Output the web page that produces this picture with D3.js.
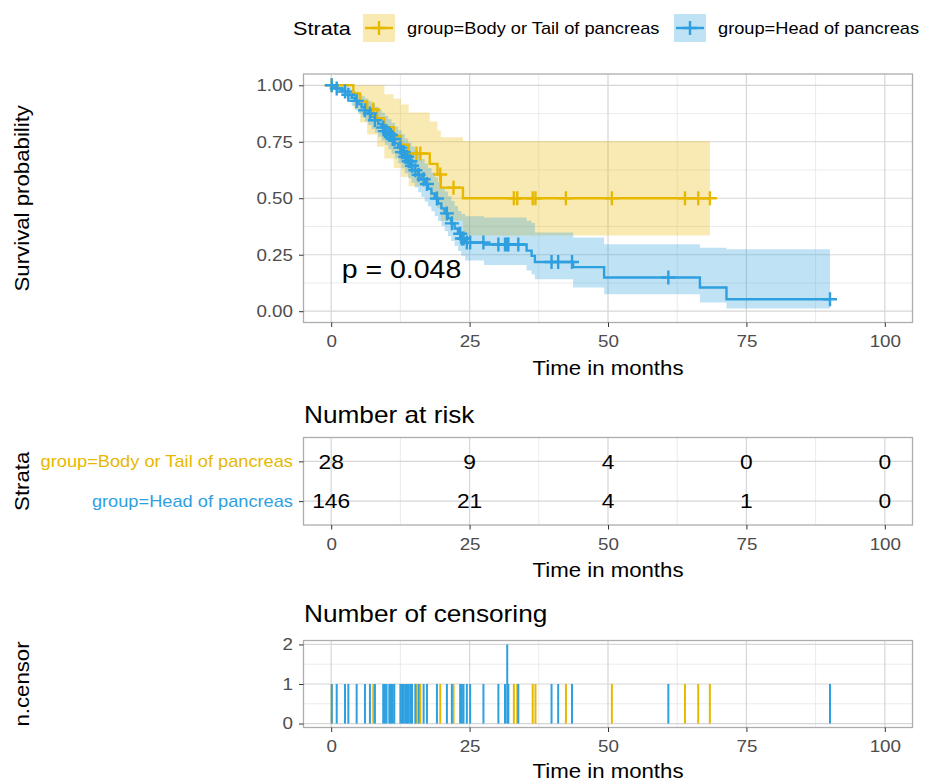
<!DOCTYPE html>
<html><head><meta charset="utf-8">
<script src="https://cdn.jsdelivr.net/npm/d3@7"></script>
<style>body{margin:0;background:#fff}</style>
</head><body>
<script>
// ---------------- data ----------------
const strata = ["group=Body or Tail of pancreas", "group=Head of pancreas"];
const strataColors = ["#E7B800", "#2E9FDF"];

// Body or Tail of pancreas: step times, survival, CI lower, CI upper
const bodyTime  = [0, 4.0, 5.2, 6.5, 8.3, 9.6, 11.3, 12.6, 14.0, 17.8, 19.2, 19.8, 23.8];
const bodySurv  = [1, 0.964, 0.929, 0.893, 0.854, 0.815, 0.776, 0.737, 0.698, 0.652, 0.605, 0.547, 0.500];
const bodyLower = [1, 0.895, 0.836, 0.782, 0.728, 0.676, 0.634, 0.594, 0.553, 0.505, 0.457, 0.400, 0.335];
const bodyUpper = [1, 1, 1, 1, 1, 0.960, 0.940, 0.915, 0.880, 0.840, 0.800, 0.770, 0.753];
const bodyEnd = 68.4;
const bodyCensorTimes  = [0.1, 7.6, 15.4, 16.1, 19.7, 22.1, 33.0, 33.6, 36.4, 36.9, 42.4, 50.7, 63.9, 66.3, 68.4];
const bodyCensorCounts = [1, 1, 1, 1, 1, 1, 1, 1, 1, 1, 1, 1, 1, 1, 1];

// Head of pancreas
const headTime  = [0, 0.4, 1.0, 1.8, 2.5, 3.1, 3.7, 4.3, 4.9, 5.5, 6.1, 6.7, 7.3, 7.9, 8.5, 9.1, 9.7, 10.3, 10.9, 11.5, 12.1, 12.7, 13.3, 13.9, 14.5, 15.1, 15.7, 16.3, 16.9, 17.5, 18.1, 18.7, 19.3, 19.9, 20.5, 21.1, 21.7, 22.3, 22.9, 23.5, 24.2, 27.6, 35.3, 36.2, 36.8, 43.7, 49.3, 66.6, 71.4];
const headSurv  = [1, 0.993, 0.986, 0.979, 0.972, 0.958, 0.945, 0.931, 0.917, 0.903, 0.889, 0.875, 0.860, 0.845, 0.829, 0.813, 0.797, 0.780, 0.762, 0.743, 0.724, 0.704, 0.684, 0.664, 0.644, 0.624, 0.604, 0.584, 0.563, 0.542, 0.521, 0.499, 0.477, 0.455, 0.433, 0.411, 0.389, 0.366, 0.343, 0.322, 0.304, 0.295, 0.268, 0.245, 0.218, 0.195, 0.149, 0.105, 0.053];
const headLower = [1, 0.980, 0.967, 0.956, 0.945, 0.926, 0.908, 0.890, 0.873, 0.857, 0.840, 0.824, 0.807, 0.790, 0.772, 0.754, 0.736, 0.717, 0.697, 0.676, 0.655, 0.633, 0.611, 0.590, 0.569, 0.548, 0.527, 0.506, 0.485, 0.464, 0.443, 0.421, 0.399, 0.377, 0.355, 0.333, 0.311, 0.289, 0.267, 0.245, 0.225, 0.205, 0.180, 0.163, 0.141, 0.105, 0.075, 0.038, 0.012];
const headUpper = [1, 1, 1, 1, 0.999, 0.991, 0.982, 0.973, 0.963, 0.952, 0.941, 0.930, 0.918, 0.905, 0.892, 0.879, 0.865, 0.850, 0.834, 0.818, 0.801, 0.783, 0.765, 0.747, 0.729, 0.711, 0.693, 0.674, 0.654, 0.634, 0.614, 0.593, 0.572, 0.551, 0.530, 0.509, 0.488, 0.466, 0.444, 0.430, 0.420, 0.415, 0.400, 0.390, 0.348, 0.326, 0.296, 0.281, 0.274];
const headEnd = 90.1;
const headCensorTimes  = [0.1, 1.0, 2.5, 3.1, 4.6, 6.1, 7.0, 7.9, 9.4, 9.7, 10.0, 10.5, 10.8, 11.1, 11.4, 12.5, 12.8, 13.1, 13.4, 13.7, 14.0, 14.3, 14.6, 15.2, 15.8, 16.7, 17.3, 19.1, 20.9, 21.8, 23.3, 23.6, 23.9, 24.5, 25.1, 27.5, 30.2, 31.4, 31.8, 32.0, 33.8, 39.8, 41.0, 43.5, 60.9, 90.1];
const headCensorCounts = [1, 1, 1, 1, 1, 1, 1, 1, 1, 1, 1, 1, 1, 1, 1, 1, 1, 1, 1, 1, 1, 1, 1, 1, 1, 1, 1, 1, 1, 1, 1, 1, 1, 1, 1, 1, 1, 1, 2, 1, 1, 1, 1, 1, 1, 1];

// axes / table
const timeTicks = [0, 25, 50, 75, 100];
const timeMinor = [12.5, 37.5, 62.5, 87.5];
const survTicks = [0, 0.25, 0.5, 0.75, 1];
const survMinor = [0.125, 0.375, 0.625, 0.875];
const riskTimes = [0, 25, 50, 75, 100];
const bodyRisk = [28, 9, 4, 0, 0];
const headRisk = [146, 21, 4, 1, 0];
const censorTicks = [0, 1, 2];
const censorMinor = [0.5, 1.5];
const pValueLabel = "p = 0.048";

// ---------------- drawing ----------------
const W = 935, H = 782, SX = 1.14;
const FONT = "'Liberation Sans', Arial, sans-serif";
const svg = d3.select("body").append("svg").attr("width", W).attr("height", H);
svg.append("rect").attr("width", W).attr("height", H).attr("fill", "#fff");

const L = 303.5, R = 912.5;
const mainTop = 74, mainBot = 322.5;
const riskTop = 437.5, riskBot = 525;
const cenTop = 640.5, cenBot = 727.5;

const x = d3.scaleLinear().domain([-5, 105]).range([L, R]);
const yMain = d3.scaleLinear().domain([-0.05, 1.05]).range([mainBot, mainTop]);
const yRisk = d3.scaleLinear().domain([0.4, 2.6]).range([riskBot, riskTop]);
const yCen = d3.scaleLinear().domain([-0.1, 2.1]).range([cenBot, cenTop]);

function txt(g, px, py, str, o = {}) {
  return g.append("text")
    .attr("transform", `translate(${px},${py})${o.rotate ? ` rotate(${o.rotate})` : ""} scale(${SX},1)`)
    .attr("text-anchor", o.anchor || "start")
    .attr("font-family", FONT)
    .attr("font-size", o.size || 16)
    .attr("fill", o.fill || "#000")
    .attr("dy", o.dy || null)
    .text(str);
}

function grid(top, bot, yS, yMaj, yMin) {
  const g = svg.append("g");
  g.append("rect").attr("x", L).attr("y", top).attr("width", R - L).attr("height", bot - top).attr("fill", "#fff");
  g.selectAll(null).data(timeMinor).join("line")
    .attr("x1", d => x(d)).attr("x2", d => x(d)).attr("y1", top).attr("y2", bot)
    .attr("stroke", "#E6E6E6").attr("stroke-width", 0.8);
  g.selectAll(null).data(yMin).join("line")
    .attr("y1", d => yS(d)).attr("y2", d => yS(d)).attr("x1", L).attr("x2", R)
    .attr("stroke", "#E6E6E6").attr("stroke-width", 0.8);
  g.selectAll(null).data(timeTicks).join("line")
    .attr("x1", d => x(d)).attr("x2", d => x(d)).attr("y1", top).attr("y2", bot)
    .attr("stroke", "#D6D6D6").attr("stroke-width", 1.2);
  g.selectAll(null).data(yMaj).join("line")
    .attr("y1", d => yS(d)).attr("y2", d => yS(d)).attr("x1", L).attr("x2", R)
    .attr("stroke", "#D6D6D6").attr("stroke-width", 1.2);
}
function border(top, bot) {
  svg.append("rect").attr("x", L).attr("y", top).attr("width", R - L).attr("height", bot - top)
    .attr("fill", "none").attr("stroke", "#ADADAD").attr("stroke-width", 1.3);
}
function xAxis(bot) {
  const ax = svg.append("g").attr("transform", `translate(0,${bot})`)
    .call(d3.axisBottom(x).tickValues(timeTicks).tickSize(4.5).tickFormat(d3.format("d")));
  ax.select(".domain").remove();
  ax.selectAll(".tick line").attr("stroke", "#333");
  ax.selectAll(".tick text").attr("y", null).attr("dy", null)
    .attr("transform", `translate(0,24.5) scale(${SX},1)`)
    .attr("font-size", 16.5).attr("fill", "#4D4D4D").attr("font-family", FONT);
}
function yAxis(yS, ticks, fmt) {
  const ax = svg.append("g").attr("transform", `translate(${L},0)`)
    .call(d3.axisLeft(yS).tickValues(ticks).tickSize(4.5).tickFormat(fmt));
  ax.select(".domain").remove();
  ax.selectAll(".tick line").attr("stroke", "#333");
  ax.selectAll(".tick text").attr("x", null)
    .attr("transform", `translate(-10.5,0) scale(${SX},1)`)
    .attr("font-size", 16.5).attr("fill", "#4D4D4D").attr("font-family", FONT);
  return ax;
}

const groups = [
  {name: strata[0], color: strataColors[0], time: bodyTime, surv: bodySurv, lo: bodyLower, hi: bodyUpper, end: bodyEnd, cT: bodyCensorTimes, cN: bodyCensorCounts},
  {name: strata[1], color: strataColors[1], time: headTime, surv: headSurv, lo: headLower, hi: headUpper, end: headEnd, cT: headCensorTimes, cN: headCensorCounts}
];
groups.forEach(g => {
  g.pts = g.time.map((t, i) => ({t, s: g.surv[i], lo: g.lo[i], hi: g.hi[i]}));
  const last = g.pts[g.pts.length - 1];
  g.pts.push({t: g.end, s: last.s, lo: last.lo, hi: last.hi});
  g.sAt = t => g.surv[Math.max(0, d3.bisectRight(g.time, t) - 1)];
});

const CR = 7, CW = 2.4;
function cross(px, py) { return `M${px - CR},${py}H${px + CR}M${px},${py - CR}V${py + CR}`; }

// ---------- legend ----------
const leg = svg.append("g");
txt(leg, 293, 35, "Strata", {size: 19});
const keyX = [363, 674], labX = [407, 718];
groups.forEach((g, i) => {
  const kx = keyX[i], ky = 14, kw = 32, kh = 28;
  leg.append("rect").attr("x", kx).attr("y", ky).attr("width", kw).attr("height", kh)
    .attr("fill", g.color).attr("fill-opacity", 0.3);
  leg.append("line").attr("x1", kx + 2).attr("x2", kx + kw - 2).attr("y1", ky + kh / 2).attr("y2", ky + kh / 2)
    .attr("stroke", g.color).attr("stroke-width", CW);
  leg.append("path").attr("d", cross(kx + kw / 2, ky + kh / 2))
    .attr("stroke", g.color).attr("stroke-width", CW);
  txt(leg, labX[i], 34, g.name, {size: 16});
});

// ---------- main KM plot ----------
grid(mainTop, mainBot, yMain, survTicks, survMinor);
const area = d3.area().x(d => x(d.t)).y0(d => yMain(d.lo)).y1(d => yMain(d.hi)).curve(d3.curveStepAfter);
const line = d3.line().x(d => x(d.t)).y(d => yMain(d.s)).curve(d3.curveStepAfter);
groups.forEach(g => {
  svg.append("path").attr("d", area(g.pts)).attr("fill", g.color).attr("fill-opacity", 0.3);
});
groups.forEach(g => {
  svg.append("path").attr("d", line(g.pts)).attr("fill", "none").attr("stroke", g.color).attr("stroke-width", 2.4);
});
groups.forEach(g => {
  svg.append("g").selectAll("path").data(g.cT).join("path")
    .attr("d", t => cross(x(t), yMain(g.sAt(t))))
    .attr("stroke", g.color).attr("stroke-width", CW).attr("fill", "none");
});
border(mainTop, mainBot);
xAxis(mainBot);
yAxis(yMain, survTicks, d3.format(".2f"));
txt(svg, x(1.9), yMain(0.147), pValueLabel, {size: 25});
txt(svg, x(50), 375, "Time in months", {size: 19.5, anchor: "middle"});
txt(svg, 29, (mainTop + mainBot) / 2, "Survival probability", {size: 19.5, anchor: "middle", rotate: -90});

// ---------- risk table ----------
txt(svg, 304, 423, "Number at risk", {size: 23});
grid(riskTop, riskBot, yRisk, [1, 2], []);
const riskRows = [{vals: bodyRisk, row: 2}, {vals: headRisk, row: 1}];
riskRows.forEach(r => {
  svg.append("g").selectAll("text").data(riskTimes).join("text")
    .attr("transform", (t) => `translate(${x(t)},${yRisk(r.row)}) scale(${SX},1)`)
    .attr("dy", "0.36em").attr("text-anchor", "middle")
    .attr("font-family", FONT).attr("font-size", 20).attr("fill", "#000")
    .text((t, i) => r.vals[i]);
});
border(riskTop, riskBot);
xAxis(riskBot);
const ry = yAxis(yRisk, [2, 1], d => d === 2 ? strata[0] : strata[1]);
ry.selectAll(".tick text").attr("font-size", 16).attr("fill", d => d === 2 ? strataColors[0] : strataColors[1]);
txt(svg, x(50), 577, "Time in months", {size: 19.5, anchor: "middle"});
txt(svg, 29, (riskTop + riskBot) / 2, "Strata", {size: 19.5, anchor: "middle", rotate: -90});

// ---------- censoring plot ----------
txt(svg, 304, 622, "Number of censoring", {size: 23});
grid(cenTop, cenBot, yCen, censorTicks, censorMinor);
groups.forEach(g => {
  svg.append("g").selectAll("line").data(g.cT).join("line")
    .attr("x1", t => x(t)).attr("x2", t => x(t))
    .attr("y1", yCen(0)).attr("y2", (t, i) => yCen(g.cN[i]))
    .attr("stroke", g.color).attr("stroke-width", 2);
});
border(cenTop, cenBot);
xAxis(cenBot);
yAxis(yCen, censorTicks, d3.format("d"));
txt(svg, x(50), 778, "Time in months", {size: 19.5, anchor: "middle"});
txt(svg, 29, (cenTop + cenBot) / 2, "n.censor", {size: 19.5, anchor: "middle", rotate: -90});
</script>
</body></html>
